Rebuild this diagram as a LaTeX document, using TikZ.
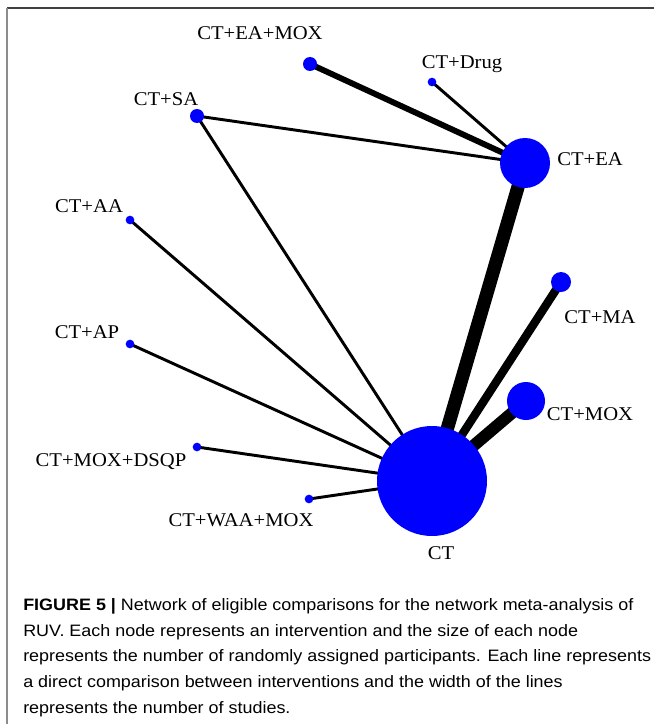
\documentclass[tikz,border=0pt]{standalone}
\usepackage{fontspec}
\setmainfont{Liberation Serif}
\newfontfamily\labfont[FakeStretch=1.06]{Liberation Serif}
\newfontfamily\capfont[FakeStretch=1.085]{Liberation Sans}
\usetikzlibrary{backgrounds}

\begin{document}
\begin{tikzpicture}[x=0.75pt, y=-0.75pt]
        % Define styles
        \tikzstyle{arm}=[circle,fill=blue,inner sep=0pt]
        \tikzstyle{tag}=[font=\labfont\fontsize{14.6}{17}\selectfont,inner sep=0pt,anchor=base]
        \tikzstyle{link}=[line width=2.2pt]

        \useasboundingbox (0,0) rectangle (654,724);

        % Frame
        \draw [black!75, line width=1.6pt] (7,8) -- (654,8);
        \draw [black!45, line width=1.2pt] (7,8) -- (7,724);

        % Intervention nodes
        \foreach \n/\x/\y/\d in {ct/432/481/82.5, ct-ea/525/163/37.5, ct-mox/526/401/28.5,
                ct-ma/561/282/15, ct-eamox/310/64/10.5, ct-sa/197/116/10.5,
                ct-drug/432/82/6.5, ct-aa/130/220/6.5, ct-ap/130/344/6.5,
                ct-dsqp/197/447/6.5, ct-waa/309/499/6.5}
            \node [arm, minimum size=\d pt] (\n) at (\x,\y) {};

        % Connect nodes
        \begin{scope}[on background layer]
            \foreach \n in {ct-sa,ct-aa,ct-ap,ct-dsqp,ct-waa}
                \draw [link] (ct.center) -- (\n.center);
            \foreach \n in {ct-sa,ct-drug}
                \draw [link] (ct-ea.center) -- (\n.center);
            \draw [link, line width=4.4pt] (ct-ea.center) -- (ct-eamox.center);
            \draw [link, line width=10pt] (ct.center) -- (ct-ea.center);
            \draw [link, line width=9pt] (ct.center) -- (ct-mox.center);
            \draw [link, line width=6.3pt] (ct.center) -- (ct-ma.center);
        \end{scope}

        % Annotate nodes
        \foreach \n/\t/\x/\y in {eamox/CT+EA+MOX/260/40, drug/CT+Drug/462/69,
                sa/CT+SA/166/105, ea/CT+EA/590/165, aa/CT+AA/89/212,
                ap/CT+AP/87/338, ma/CT+MA/600/323, mox/CT+MOX/590/420,
                dsqp/CT+MOX+DSQP/111/466, waa/CT+WAA+MOX/241/526, ct/CT/441/559}
            \node [tag] (lab-\n) at (\x,\y) {\t};

        % Caption (base is the last line)
        \node [anchor=base west, align=left, inner sep=0pt,
               font=\capfont\fontsize{12.4}{19.2}\selectfont] (caption) at (23,713)
            {\textbf{FIGURE 5 |} Network of eligible comparisons for the network meta-analysis of\\
             RUV. Each node represents an intervention and the size of each node\\
             represents the number of randomly assigned participants. Each line represents\\
             a direct comparison between interventions and the width of the lines\\
             represents the number of studies.};
    \end{tikzpicture}
\end{document}
